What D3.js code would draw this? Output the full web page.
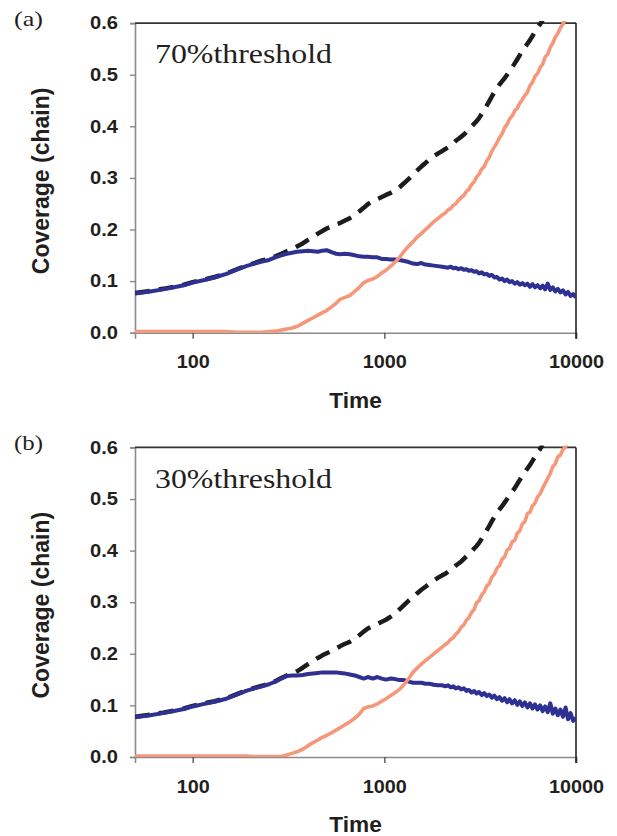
<!DOCTYPE html>
<html>
<head>
<meta charset="utf-8">
<script src="https://cdn.jsdelivr.net/npm/d3@7/dist/d3.min.js"></script>
<style>
  html, body { margin: 0; padding: 0; background: #fff; }
  svg { display: block; }
</style>
</head>
<body>
<svg id="chart" width="617" height="836"></svg>
<script>
// Time points shared by every series (log-spaced sampling, 50 .. 10000)
const timeEarly = [
  50, 60, 70, 80, 90,
  100, 115, 130, 150, 170,
  190, 210, 230, 250, 270,
  290, 310, 330, 350, 375,
  400, 425, 450, 475, 500,
  530, 560, 590, 620, 660,
  700, 740, 780, 820, 870,
  920, 970, 1020, 1080, 1140,
  1200, 1270, 1340, 1410, 1480,
  1560, 1640, 1720, 1810, 1900,
  2000
];
const timeLate = [
  2080, 2150, 2220, 2290, 2360,
  2440, 2520, 2600, 2680, 2760,
  2850, 2940, 3030, 3120, 3220,
  3320, 3420, 3530, 3640, 3750,
  3870, 3990, 4110, 4240, 4370,
  4500, 4640, 4790, 4940, 5090,
  5250, 5410, 5580, 5750, 5930,
  6110, 6300, 6500, 6700, 6900,
  7120, 7340, 7570, 7800, 8040,
  8290, 8550, 8820, 9090, 9370,
  9660, 10000
];
const times = timeEarly.concat(timeLate);

// ---- Panel (a): 70% threshold ----
const oldChainA = [
  0.076,0.080,0.084,0.088,0.092,
  0.097,0.102,0.107,0.114,0.122,
  0.129,0.134,0.138,0.141,0.146,
  0.150,0.153,0.155,0.157,0.158,
  0.159,0.158,0.157,0.159,0.160,
  0.156,0.153,0.152,0.153,0.152,
  0.150,0.148,0.147,0.147,0.146,
  0.146,0.143,0.143,0.142,0.142,
  0.141,0.139,0.137,0.134,0.133,
  0.135,0.132,0.131,0.130,0.129,
  0.128,
  0.127,0.126,0.128,0.125,0.126,
  0.123,0.125,0.122,0.123,0.120,
  0.121,0.118,0.119,0.115,0.117,
  0.113,0.114,0.110,0.112,0.107,
  0.108,0.103,0.105,0.100,0.103,
  0.098,0.100,0.095,0.098,0.093,
  0.096,0.092,0.095,0.089,0.094,
  0.088,0.092,0.086,0.091,0.084,
  0.095,0.083,0.088,0.080,0.085,
  0.078,0.082,0.074,0.079,0.071,
  0.075,0.068
];
const totalChainA = [
  0.077,0.081,0.085,0.089,0.093,
  0.098,0.103,0.108,0.115,0.123,
  0.130,0.135,0.140,0.143,0.148,
  0.153,0.158,0.162,0.167,0.173,
  0.180,0.186,0.192,0.197,0.202,
  0.206,0.210,0.213,0.217,0.222,
  0.228,0.235,0.242,0.249,0.255,
  0.259,0.263,0.267,0.271,0.276,
  0.282,0.290,0.298,0.306,0.314,
  0.322,0.329,0.336,0.342,0.347,
  0.352,
  0.356,0.359,0.363,0.367,0.372,
  0.376,0.380,0.384,0.389,0.394,
  0.399,0.405,0.410,0.416,0.424,
  0.432,0.440,0.449,0.458,0.466,
  0.474,0.481,0.487,0.493,0.500,
  0.507,0.514,0.522,0.530,0.538,
  0.546,0.553,0.560,0.567,0.575,
  0.583,0.591,0.598,0.606
];
const newChainA = [
  0.002,0.002,0.002,0.002,0.002,
  0.002,0.002,0.002,0.002,0.001,
  0.001,0.001,0.001,0.002,0.003,
  0.005,0.007,0.009,0.012,0.018,
  0.024,0.029,0.034,0.039,0.043,
  0.050,0.057,0.065,0.068,0.072,
  0.080,0.088,0.097,0.101,0.104,
  0.109,0.116,0.121,0.129,0.137,
  0.146,0.158,0.168,0.176,0.185,
  0.192,0.200,0.207,0.215,0.221,
  0.228,
  0.232,0.238,0.241,0.247,0.250,
  0.257,0.262,0.266,0.274,0.278,
  0.287,0.292,0.302,0.307,0.317,
  0.322,0.333,0.340,0.352,0.360,
  0.368,0.378,0.385,0.397,0.404,
  0.414,0.420,0.430,0.435,0.445,
  0.452,0.460,0.466,0.479,0.485,
  0.497,0.502,0.514,0.520,0.534,
  0.540,0.553,0.561,0.573,0.580,
  0.591,0.598,0.608
];

// ---- Panel (b): 30% threshold ----
const oldChainB = [
  0.077,0.081,0.085,0.089,0.093,
  0.098,0.103,0.107,0.113,0.121,
  0.128,0.133,0.137,0.141,0.146,
  0.152,0.157,0.158,0.158,0.159,
  0.161,0.162,0.163,0.164,0.164,
  0.164,0.164,0.163,0.162,0.160,
  0.158,0.155,0.152,0.155,0.152,
  0.155,0.152,0.150,0.152,0.151,
  0.149,0.149,0.146,0.144,0.144,
  0.144,0.142,0.142,0.140,0.139,
  0.139,
  0.137,0.139,0.135,0.137,0.133,
  0.135,0.131,0.133,0.128,0.130,
  0.125,0.128,0.123,0.126,0.120,
  0.124,0.118,0.121,0.115,0.119,
  0.112,0.116,0.109,0.114,0.106,
  0.112,0.104,0.110,0.101,0.108,
  0.099,0.106,0.096,0.104,0.094,
  0.102,0.092,0.100,0.089,0.098,
  0.087,0.104,0.084,0.094,0.081,
  0.092,0.078,0.096,0.073,0.085,
  0.070,0.076
];
const totalChainB = [
  0.078,0.082,0.086,0.090,0.094,
  0.099,0.104,0.108,0.114,0.122,
  0.129,0.134,0.138,0.142,0.147,
  0.153,0.158,0.161,0.166,0.173,
  0.180,0.186,0.192,0.197,0.201,
  0.205,0.210,0.215,0.219,0.223,
  0.229,0.236,0.243,0.249,0.254,
  0.258,0.262,0.266,0.272,0.278,
  0.286,0.295,0.303,0.310,0.317,
  0.324,0.330,0.336,0.342,0.347,
  0.352,
  0.355,0.359,0.362,0.366,0.371,
  0.375,0.379,0.384,0.389,0.393,
  0.398,0.404,0.409,0.415,0.423,
  0.431,0.439,0.448,0.457,0.465,
  0.473,0.480,0.486,0.493,0.500,
  0.507,0.514,0.521,0.529,0.537,
  0.545,0.552,0.559,0.566,0.574,
  0.582,0.590,0.597,0.605
];
const newChainB = [
  0.002,0.002,0.002,0.002,0.002,
  0.002,0.002,0.002,0.002,0.002,
  0.002,0.001,0.001,0.001,0.001,
  0.001,0.004,0.007,0.010,0.015,
  0.022,0.028,0.033,0.038,0.042,
  0.047,0.052,0.057,0.062,0.068,
  0.075,0.083,0.094,0.097,0.099,
  0.103,0.108,0.113,0.119,0.125,
  0.131,0.141,0.152,0.164,0.172,
  0.180,0.187,0.193,0.200,0.206,
  0.213,
  0.218,0.222,0.228,0.231,0.238,
  0.243,0.252,0.256,0.265,0.270,
  0.280,0.286,0.299,0.303,0.314,
  0.320,0.331,0.336,0.349,0.354,
  0.366,0.371,0.383,0.388,0.401,
  0.404,0.417,0.420,0.434,0.438,
  0.452,0.456,0.472,0.474,0.487,
  0.492,0.504,0.510,0.521,0.530,
  0.540,0.549,0.563,0.568,0.582,
  0.585,0.596,0.601,0.612
];

// Axis ticks and labels
const xTicks = [100, 1000, 10000];
const yTicks = [0, 0.1, 0.2, 0.3, 0.4, 0.5, 0.6];
const panelLetters = ["(a)", "(b)"];
const panelTitles = ["70%threshold", "30%threshold"];
const xTitle = "Time";
const yTitle = "Coverage (chain)";

const panels = [
  { letter: panelLetters[0], title: panelTitles[0], old: oldChainA, total: totalChainA, fresh: newChainA, top: 23.1, bottom: 332.7 },
  { letter: panelLetters[1], title: panelTitles[1], old: oldChainB, total: totalChainB, fresh: newChainB, top: 447.4, bottom: 757.0 }
];

const svg = d3.select("#chart");
const plotLeft = 135, plotRight = 576;
const x = d3.scaleLog().domain([50, 10000]).range([plotLeft, plotRight]);

const sans = "'Liberation Sans', Arial, sans-serif";
const serif = "'Liberation Serif', 'Times New Roman', serif";

function stretch(sel, factor) {
  sel.each(function () {
    const w = this.getComputedTextLength();
    this.setAttribute("textLength", (w * factor).toFixed(1));
    this.setAttribute("lengthAdjust", "spacingAndGlyphs");
  });
}

panels.forEach((p, idx) => {
  const y = d3.scaleLinear().domain([0, 0.6]).range([p.bottom, p.top]);
  const g = svg.append("g");

  const clipId = "clip" + idx;
  svg.append("defs").append("clipPath").attr("id", clipId)
    .append("rect")
    .attr("x", plotLeft).attr("y", p.top - 2)
    .attr("width", plotRight - plotLeft).attr("height", p.bottom - p.top + 2);

  // left axis
  const yAxis = d3.axisLeft(y).tickValues(yTicks).tickFormat(d3.format(".1f"))
    .tickSize(5).tickPadding(12);
  const ya = g.append("g").attr("transform", `translate(${plotLeft},0)`).call(yAxis);
  ya.select(".domain").attr("stroke", "#8a8a8a").attr("stroke-width", 1.6);
  ya.selectAll(".tick line").attr("stroke", "#8a8a8a").attr("stroke-width", 1.4);
  ya.selectAll(".tick text")
    .attr("font-family", sans).attr("font-weight", "bold").attr("font-size", 18)
    .attr("fill", "#231f20");
  stretch(ya.selectAll(".tick text"), 1.12);

  // bottom axis
  const xAxis = d3.axisBottom(x).tickValues(xTicks).tickFormat(d3.format("d"))
    .tickSize(6).tickPadding(17);
  const xa = g.append("g").attr("transform", `translate(0,${p.bottom})`).call(xAxis);
  xa.select(".domain").attr("stroke", "#8a8a8a").attr("stroke-width", 1.6);
  xa.selectAll(".tick line").attr("stroke", "#555").attr("stroke-width", 1.4);
  xa.selectAll(".tick text")
    .attr("font-family", sans).attr("font-weight", "bold").attr("font-size", 18)
    .attr("fill", "#231f20");
  stretch(xa.selectAll(".tick text"), 1.1);

  // frame: top and right edges
  g.append("line").attr("x1", plotLeft).attr("x2", plotRight)
    .attr("y1", p.top).attr("y2", p.top)
    .attr("stroke", "#333").attr("stroke-width", 1.6);
  g.append("line").attr("x1", plotRight).attr("x2", plotRight)
    .attr("y1", p.top).attr("y2", p.bottom + 6)
    .attr("stroke", "#222").attr("stroke-width", 1.6);

  const lineOf = (vals) => d3.line()
    .x((d, i) => x(times[i]))
    .y(d => y(d))(vals);

  const curves = g.append("g").attr("clip-path", `url(#${clipId})`);
  curves.append("path").attr("d", lineOf(p.total))
    .attr("fill", "none").attr("stroke", "#1c1c1c").attr("stroke-width", 4.5)
    .attr("stroke-dasharray", "15,9").attr("stroke-linejoin", "round");
  curves.append("path").attr("d", lineOf(p.old))
    .attr("fill", "none").attr("stroke", "#2e3192").attr("stroke-width", 4)
    .attr("stroke-linejoin", "round");
  curves.append("path").attr("d", lineOf(p.fresh))
    .attr("fill", "none").attr("stroke", "#f7977a").attr("stroke-width", 3.6)
    .attr("stroke-linejoin", "round");

  // axis titles
  const xt = g.append("text")
    .attr("x", (plotLeft + plotRight) / 2).attr("y", p.bottom + 75)
    .attr("text-anchor", "middle")
    .attr("font-family", sans).attr("font-weight", "bold").attr("font-size", 22)
    .attr("fill", "#231f20").text(xTitle);
  stretch(xt, 1.03);

  g.append("text")
    .attr("transform", `translate(48.5,${(p.top + p.bottom) / 2 + 3}) rotate(-90)`)
    .attr("text-anchor", "middle")
    .attr("font-family", sans).attr("font-weight", "bold").attr("font-size", 23)
    .attr("fill", "#231f20").text(yTitle);

  // panel letter and threshold caption
  const lt = g.append("text")
    .attr("x", 14).attr("y", p.top + 3)
    .attr("font-family", serif).attr("font-size", 21)
    .attr("fill", "#231f20").text(p.letter);
  lt.attr("textLength", 29).attr("lengthAdjust", "spacingAndGlyphs");

  const tt = g.append("text")
    .attr("x", 155).attr("y", p.top + 40.3)
    .attr("font-family", serif).attr("font-size", 28)
    .attr("fill", "#231f20").text(p.title);
  tt.attr("textLength", 177).attr("lengthAdjust", "spacingAndGlyphs");
});
</script>
</body>
</html>
